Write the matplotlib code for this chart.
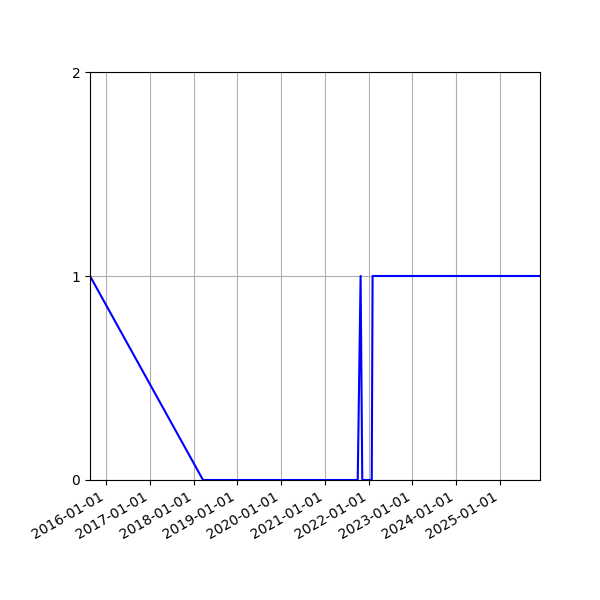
import matplotlib
matplotlib.use("Agg")
import matplotlib.pyplot as plt
import matplotlib.dates as mdates
import numpy as np

dates = np.array([
    "2015-08-20", "2018-03-20", "2021-10-01", "2021-10-25",
    "2021-11-08", "2022-01-26", "2022-02-02", "2025-11-30",
], dtype="datetime64[D]")
values = [1, 0, 0, 1, 0, 0, 1, 1]
y_ticks = [0, 1, 2]

fig, ax = plt.subplots(figsize=(6, 6), dpi=100)
ax.plot(dates, values, color="blue")
ax.set_xlim(dates[0], dates[-1])
ax.set_ylim(0, 2)
ax.set_yticks(y_ticks)
ax.xaxis.set_major_locator(mdates.YearLocator())
ax.xaxis.set_major_formatter(mdates.DateFormatter("%Y-%m-%d"))
ax.grid(True)
fig.autofmt_xdate()
fig.subplots_adjust(left=0.15, right=0.9, top=0.88, bottom=0.2)
fig.savefig("out.png")
